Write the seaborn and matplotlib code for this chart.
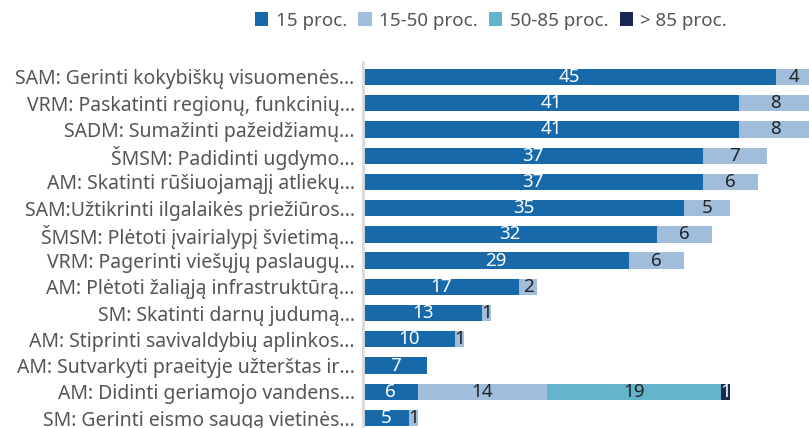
import numpy as np
import pandas as pd
import matplotlib.pyplot as plt
import seaborn as sns
from matplotlib.patches import Patch

kategorijos = [
    "SAM: Gerinti kokybiškų visuomenės…",
    "VRM: Paskatinti regionų, funkcinių…",
    "SADM: Sumažinti pažeidžiamų…",
    "ŠMSM: Padidinti ugdymo…",
    "AM: Skatinti rūšiuojamąjį atliekų…",
    "SAM:Užtikrinti ilgalaikės priežiūros…",
    "ŠMSM: Plėtoti įvairialypį švietimą…",
    "VRM: Pagerinti viešųjų paslaugų…",
    "AM: Plėtoti žaliąją infrastruktūrą…",
    "SM: Skatinti darnų judumą…",
    "AM: Stiprinti savivaldybių aplinkos…",
    "AM: Sutvarkyti praeityje užterštas ir…",
    "AM: Didinti geriamojo vandens…",
    "SM: Gerinti eismo saugą vietinės…",
]
serijos = ["15 proc.", "15-50 proc.", "50-85 proc.", "> 85 proc."]
s15 = [45, 41, 41, 37, 37, 35, 32, 29, 17, 13, 10, 7, 6, 5]
s15_50 = [4, 8, 8, 7, 6, 5, 6, 6, 2, 1, 1, 0, 14, 1]
s50_85 = [0, 0, 0, 0, 0, 0, 0, 0, 0, 0, 0, 0, 19, 0]
s85 = [0, 0, 0, 0, 0, 0, 0, 0, 0, 0, 0, 0, 1, 0]

spalvos = ["#1769aa", "#a0bedc", "#63b3cb", "#1a2753"]
teksto_spalvos = ["white", "#222222", "#222222", "white"]

df = pd.DataFrame({"kat": kategorijos, serijos[0]: s15, serijos[1]: s15_50,
                   serijos[2]: s50_85, serijos[3]: s85})
cum = df[serijos].cumsum(axis=1)

sns.set_style("white")
plt.rcParams["font.family"] = ["Noto Sans", "DejaVu Sans"]
plt.rcParams["font.weight"] = "light"

fig = plt.figure(figsize=(8.09, 4.28), dpi=100)
ax = fig.add_axes([363 / 809, 0, 1 - 363 / 809, 1 - 62 / 428])

# kaupiamieji stulpeliai: nuo didžiausios sumos iki mažiausios
for i in range(len(serijos) - 1, -1, -1):
    sns.barplot(x=cum[serijos[i]], y=df["kat"], orient="h", color=spalvos[i],
                saturation=1, width=0.62, ax=ax, linewidth=0)

for i, s in enumerate(serijos):
    kairė = cum[s] - df[s]
    for j, v in enumerate(df[s]):
        if v > 0:
            ax.text(kairė[j] + v / 2, j, str(v), ha="center", va="center",
                    color=teksto_spalvos[i], fontsize=13.5)

ax.set_xlim(0, 48.6)
ax.set_ylim(13.38, -0.57)
ax.set_xlabel("")
ax.set_ylabel("")
ax.set_xticks([])
ax.tick_params(axis="y", length=0, pad=6, labelsize=14, labelcolor="#555555")
for sp in ["top", "right", "bottom"]:
    ax.spines[sp].set_visible(False)
ax.spines["left"].set_color("#d9d9d9")
ax.spines["left"].set_linewidth(2)

rankenos = [Patch(facecolor=c, edgecolor="none") for c in spalvos]
fig.legend(rankenos, serijos, loc="center", bbox_to_anchor=(0.607, 0.952), ncol=4,
           frameon=False, fontsize=13.5, labelcolor="#555555", handlelength=0.7,
           handleheight=0.7, handletextpad=0.4, columnspacing=0.6)

fig.savefig("out.png", dpi=100)
